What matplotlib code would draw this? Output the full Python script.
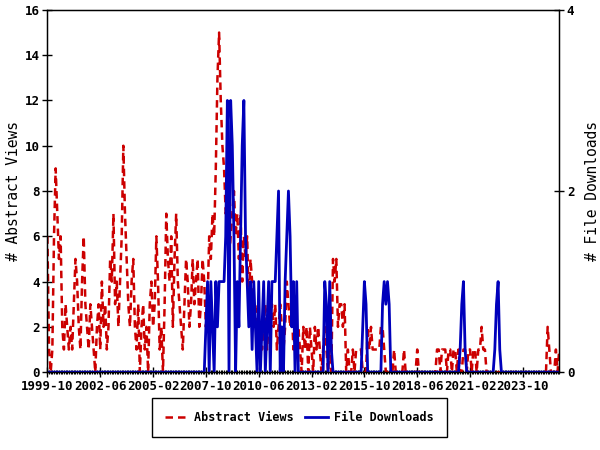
import matplotlib
matplotlib.use("Agg")
import matplotlib.pyplot as plt
import pandas as pd
from matplotlib.ticker import MultipleLocator

# monthly counts, first month is 1999-10
start_month = "1999-10"

abstract_views = [
    6, 1, 0,                                   # 1999
    1, 6, 9, 7, 5, 6, 2, 1, 3, 2, 1, 2,        # 2000
    1, 3, 5, 4, 2, 1, 4, 6, 3, 2, 1, 3,        # 2001
    2, 1, 0, 2, 3, 1, 4, 2, 3, 1, 2, 5,        # 2002
    4, 7, 3, 4, 2, 4, 6, 10, 7, 5, 3, 2,       # 2003
    4, 5, 2, 1, 3, 0, 2, 3, 1, 2, 0, 3,        # 2004
    4, 2, 3, 6, 4, 1, 2, 0, 3, 7, 5, 4,        # 2005
    6, 2, 5, 7, 4, 3, 2, 1, 3, 5, 4, 2,        # 2006
    3, 5, 3, 4, 5, 2, 3, 5, 4, 2, 3, 6,        # 2007
    5, 7, 6, 9, 13, 15, 12, 10, 9, 7, 8, 5,    # 2008
    6, 7, 8, 6, 7, 5, 7, 4, 6, 5, 6, 3,        # 2009
    5, 4, 2, 3, 1, 2, 2, 1, 2, 3, 1, 2,        # 2010
    2, 3, 2, 3, 1, 2, 3, 2, 1, 2, 4, 3,        # 2011
    2, 3, 1, 2, 1, 2, 1, 0, 2, 1, 2, 0,        # 2012
    2, 1, 0, 2, 1, 2, 1, 0, 1, 2, 1, 0,        # 2013
    1, 0, 5, 4, 5, 2, 3, 3, 2, 3, 0, 1,        # 2014
    0, 0, 1, 0, 1, 1, 1, 1, 0, 0, 0, 2,        # 2015
    1, 2, 1, 1, 1, 1, 1, 2, 2, 1, 0, 0,        # 2016
    0, 0, 0, 1, 0, 0, 0, 0, 0, 1, 0, 0,        # 2017
    0, 0, 0, 0, 0, 1, 0, 0, 0, 0, 0, 0,        # 2018
    0, 0, 0, 0, 0, 1, 1, 0, 1, 1, 1, 0,        # 2019
    1, 1, 0, 1, 1, 0, 1, 0, 0, 1, 1, 0,        # 2020
    1, 1, 0, 1, 1, 0, 1, 1, 2, 1, 1, 0,        # 2021
    0, 0, 0, 0, 0, 0, 0, 0, 0, 0, 0, 0,        # 2022
    0, 0, 0, 0, 0, 0, 0, 0, 0, 0, 0, 0,        # 2023
    0, 0, 0, 0, 0, 0, 0, 0, 0, 0, 0, 0,        # 2024
    2, 1, 0, 0, 0, 1, 0, 1,                    # 2025
]

file_downloads = [
    0, 0, 0,                                               # 1999
    0, 0, 0, 0, 0, 0, 0, 0, 0, 0, 0, 0,                    # 2000
    0, 0, 0, 0, 0, 0, 0, 0, 0, 0, 0, 0,                    # 2001
    0, 0, 0, 0, 0, 0, 0, 0, 0, 0, 0, 0,                    # 2002
    0, 0, 0, 0, 0, 0, 0, 0, 0, 0, 0, 0,                    # 2003
    0, 0, 0, 0, 0, 0, 0, 0, 0, 0, 0, 0,                    # 2004
    0, 0, 0, 0, 0, 0, 0, 0, 0, 0, 0, 0,                    # 2005
    0, 0, 0, 0, 0, 0, 0, 0, 0, 0, 0, 0,                    # 2006
    0, 0, 0, 0, 0, 0, 0, 0, 0, 0.5, 1, 0,                  # 2007
    1, 0.5, 0, 1, 0.5, 1, 1, 1, 1, 1.5, 3, 0,              # 2008
    3, 2.5, 1.5, 0, 1, 0.5, 1.5, 2.5, 3, 1.5, 1, 0.5,      # 2009
    1, 0.25, 1, 0.5, 0, 1, 0, 0.5, 1, 0, 0.5, 1,           # 2010
    0, 1, 1, 1, 1.5, 2, 0, 0.5, 0, 1, 1.5, 2,              # 2011
    1.5, 0.5, 1, 0, 1, 0, 0, 0, 0, 0, 0, 0,                # 2012
    0, 0, 0, 0, 0, 0, 0, 0, 0, 1, 0.75, 0,                 # 2013
    1, 0.25, 0, 0, 0, 0, 0, 0, 0, 0, 0, 0,                 # 2014
    0, 0, 0, 0, 0, 0, 0, 0, 0.5, 1, 0.75, 0,               # 2015
    0, 0, 0, 0, 0, 0, 0, 0, 0.75, 1, 0.75, 1,              # 2016
    0.75, 0, 0, 0, 0, 0, 0, 0, 0, 0, 0, 0,                 # 2017
    0, 0, 0, 0, 0, 0, 0, 0, 0, 0, 0, 0,                    # 2018
    0, 0, 0, 0, 0, 0, 0, 0, 0, 0, 0, 0,                    # 2019
    0, 0, 0, 0, 0, 0, 0, 0.25, 0.75, 1, 0.25, 0,           # 2020
    0, 0, 0, 0, 0, 0, 0, 0, 0, 0, 0, 0,                    # 2021
    0, 0, 0, 0, 0.25, 0.75, 1, 0.25, 0, 0, 0, 0,           # 2022
    0, 0, 0, 0, 0, 0, 0, 0, 0, 0, 0, 0,                    # 2023
    0, 0, 0, 0, 0, 0, 0, 0, 0, 0, 0, 0,                    # 2024
    0, 0, 0, 0, 0, 0, 0, 0,                                # 2025
]

months = pd.period_range(start_month, periods=len(abstract_views), freq="M")
x = list(range(len(months)))
tick_step = 32

plt.rcParams["font.family"] = ["DejaVu Sans Mono"]
plt.rcParams["font.weight"] = "bold"
plt.rcParams["font.size"] = 9

fig = plt.figure(figsize=(6, 4.5), dpi=100)
ax = fig.add_axes([0.079, 0.173, 0.853, 0.805])
ax2 = ax.twinx()

line_a, = ax.plot(x, abstract_views, color="#cc0000", lw=1.8, ls=(0, (3, 2)), label="Abstract Views")
line_d, = ax2.plot(x, file_downloads, color="#0000bb", lw=2, label="File Downloads")

ax.set_xlim(0, len(x) - 1)
ax.set_ylim(0, 16)
ax2.set_ylim(0, 4)
ax.set_yticks(range(0, 17, 2))
ax2.set_yticks([0, 2, 4])

ticks = x[::tick_step]
ax.set_xticks(ticks)
ax.set_xticklabels([months[i].strftime("%Y-%m") for i in ticks])
ax.xaxis.set_minor_locator(MultipleLocator(1))

ax.tick_params(axis="both", which="major", direction="inout", length=7, width=1, pad=2)
ax.tick_params(axis="x", which="minor", direction="inout", length=3, width=0.8)
ax2.tick_params(axis="y", which="major", direction="inout", length=7, width=1, pad=2)

ax.set_ylabel("# Abstract Views", fontsize=10.5, labelpad=3)
ax2.set_ylabel("# File Downloads", fontsize=10.5, labelpad=8)

for s in ax2.spines.values():
    s.set_linewidth(1)

leg = fig.legend(handles=[line_a, line_d], loc="center", bbox_to_anchor=(0.499, 0.072),
                 ncol=2, fancybox=False, edgecolor="black", framealpha=1, fontsize=8.5,
                 borderpad=1.1, handlelength=2.0, columnspacing=0.9, handletextpad=0.5,
                 borderaxespad=0)
leg.get_frame().set_linewidth(1)

fig.savefig("out.png", dpi=100)
